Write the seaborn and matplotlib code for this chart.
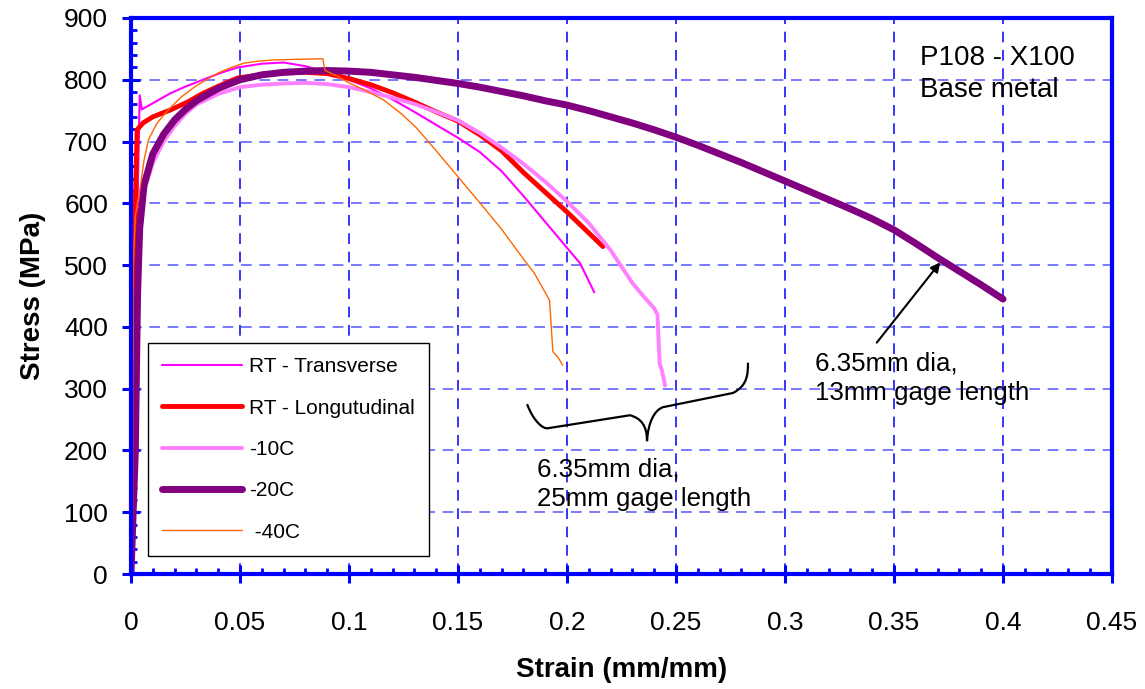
import seaborn as sns
import matplotlib.pyplot as plt
import numpy as np
import pandas as pd
from matplotlib.path import Path
from matplotlib.patches import PathPatch
from matplotlib.ticker import MultipleLocator, FuncFormatter


# Curbe tensiune-deformatie

rt_trans_strain = [0, 0.002, 0.003, 0.004, 0.005, 0.01, 0.018, 0.025, 0.033, 0.041, 0.049,
                   0.06, 0.07, 0.08, 0.09, 0.1, 0.11, 0.12, 0.13, 0.14, 0.15, 0.16, 0.17,
                   0.18, 0.19, 0.2, 0.206, 0.2125]
rt_trans_stress = [0, 350, 600, 775, 752, 762, 778, 789, 800, 811, 820,
                   826, 828, 822, 812, 800, 786, 768, 748, 727, 706, 683, 652,
                   612, 570, 528, 503, 456]

rt_long_strain = [0, 0.001, 0.002, 0.0028, 0.0055, 0.01, 0.018, 0.026, 0.033, 0.041, 0.049,
                  0.06, 0.07, 0.08, 0.09, 0.1, 0.11, 0.12, 0.13, 0.14, 0.15, 0.16, 0.17,
                  0.18, 0.19, 0.2, 0.21, 0.2165]
rt_long_stress = [0, 300, 600, 719, 730, 740, 751, 764, 778, 791, 803,
                  808, 811, 812, 810, 802, 792, 779, 764, 748, 733, 711, 685,
                  650, 618, 586, 552, 530]

m10_strain = [0, 0.002, 0.004, 0.006, 0.01, 0.015, 0.02, 0.025, 0.03, 0.04, 0.05,
              0.06, 0.07, 0.08, 0.09, 0.1, 0.11, 0.12, 0.13, 0.14, 0.15, 0.16, 0.17,
              0.18, 0.19, 0.2, 0.21, 0.22, 0.23, 0.235, 0.24, 0.2415, 0.2425, 0.2435, 0.245]
m10_stress = [0, 400, 560, 620, 665, 700, 725, 745, 760, 777, 788,
              792, 794, 795, 793, 788, 780, 771, 761, 748, 734, 714, 690,
              664, 635, 603, 568, 524, 471, 450, 430, 420, 340, 330, 305]

m20_strain = [0, 0.002, 0.003, 0.004, 0.006, 0.01, 0.015, 0.02, 0.025, 0.03, 0.04, 0.05,
              0.06, 0.07, 0.08, 0.09, 0.1, 0.11, 0.12, 0.13, 0.14, 0.15, 0.16, 0.17,
              0.18, 0.19, 0.2, 0.21, 0.22, 0.23, 0.24, 0.25, 0.26, 0.27, 0.28, 0.29,
              0.3, 0.31, 0.32, 0.33, 0.34, 0.35, 0.36, 0.37, 0.38, 0.39, 0.4]
m20_stress = [0, 200, 450, 560, 630, 680, 712, 735, 752, 766, 786, 800,
              808, 812, 814, 815, 814, 812, 808, 804, 799, 794, 788, 781,
              774, 766, 759, 750, 740, 730, 719, 707, 694, 680, 666, 651,
              636, 621, 606, 591, 575, 557, 535, 512, 490, 468, 445]

m40_strain = [0, 0.0007, 0.0008, 0.001, 0.002, 0.004, 0.006, 0.008, 0.012, 0.017, 0.023,
              0.029, 0.035, 0.04, 0.046, 0.052, 0.058, 0.065, 0.075, 0.088, 0.089, 0.095,
              0.1, 0.108, 0.116, 0.124, 0.131, 0.14, 0.15, 0.16, 0.17, 0.18, 0.185,
              0.192, 0.1935, 0.196, 0.198]
m40_stress = [0, 100, 300, 500, 580, 620, 670, 703, 730, 751, 772,
              788, 801, 811, 820, 827, 830, 832, 833, 834, 815, 805,
              795, 782, 767, 745, 722, 685, 643, 601, 558, 510, 487,
              443, 360, 350, 338]

serii = [
    ("RT - Transverse", rt_trans_strain, rt_trans_stress, "#FF00FF", 1.5),
    ("RT - Longutudinal", rt_long_strain, rt_long_stress, "#FF0000", 3.5),
    ("-10C", m10_strain, m10_stress, "#FF80FF", 2.8),
    ("-20C", m20_strain, m20_stress, "#800080", 5.0),
    (" -40C", m40_strain, m40_stress, "#FF6600", 1.0),
]


# Stil grafic

sns.set_style("white")
plt.rcParams["font.family"] = ["Liberation Sans", "DejaVu Sans"]
plt.rcParams["text.color"] = "black"
plt.rcParams["axes.labelcolor"] = "black"
plt.rcParams["xtick.labelcolor"] = "black"
plt.rcParams["ytick.labelcolor"] = "black"

fig = plt.figure(figsize=(11.45, 6.89), dpi=100)
ax = fig.add_axes([0.1144, 0.1669, 0.8568, 0.807])

for nume, x, y, culoare, lw in serii:
    df = pd.DataFrame({"Strain": x, "Stress": y})
    sns.lineplot(data=df, x="Strain", y="Stress", ax=ax, sort=False, estimator=None,
                 color=culoare, linewidth=lw, label=nume)

ax.set_xlim(0, 0.45)
ax.set_ylim(0, 900)
ax.xaxis.set_major_locator(MultipleLocator(0.05))
ax.xaxis.set_minor_locator(MultipleLocator(0.01))
ax.yaxis.set_major_locator(MultipleLocator(100))
ax.yaxis.set_minor_locator(MultipleLocator(20))
ax.xaxis.set_major_formatter(FuncFormatter(lambda v, p: f"{v:g}"))

ax.tick_params(which="major", direction="inout", length=13, width=2.2, color="#0000FF",
               labelsize=19, labelcolor="black")
ax.tick_params(axis="x", which="major", pad=20)
ax.tick_params(axis="y", which="major", pad=10)
ax.tick_params(which="minor", direction="in", length=4.5, width=2, color="#0000FF")
ax.tick_params(axis="x", which="both", bottom=True, top=False)
ax.tick_params(axis="y", which="both", left=True, right=False)

ax.xaxis.grid(True, which="major", color="#0000FF", linewidth=1.1, dashes=(7, 5))
ax.yaxis.grid(True, which="major", color="#5555FF", linewidth=1.1, dashes=(7, 5))
ax.set_axisbelow(True)

for s in ax.spines.values():
    s.set_color("#0000FF")
    s.set_linewidth(3)
    s.set_visible(True)

ax.set_xlabel("Strain (mm/mm)", fontsize=20, fontweight="bold", labelpad=16)
ax.set_ylabel("Stress (MPa)", fontsize=20, fontweight="bold", labelpad=13)

leg = ax.legend(loc="lower left", bbox_to_anchor=(0.017, 0.032), fontsize=15,
                frameon=True, fancybox=False, framealpha=1, edgecolor="black",
                handlelength=3.85, labelspacing=1.07, borderpad=0.7, handletextpad=0.3,
                borderaxespad=0)
leg.get_frame().set_linewidth(1.0)
for t in leg.get_texts():
    t.set_color("black")


# Adnotari

ax.text(0.362, 856, "P108 - X100\nBase metal", fontsize=20, va="top", ha="left",
        linespacing=1.3)
ax.text(0.3138, 360, "6.35mm dia,\n13mm gage length", fontsize=18.6, va="top",
        ha="left", linespacing=1.3)
ax.text(0.1862, 189, "6.35mm dia,\n25mm gage length", fontsize=18.6, va="top",
        ha="left", linespacing=1.3)
ax.annotate("", xy=(0.372, 508), xytext=(0.3413, 371),
            arrowprops=dict(arrowstyle="-|>", color="black", lw=1.5, mutation_scale=14))

# acolada
verts = [(0.1817, 275), (0.1845, 248), (0.1890, 234), (0.1913, 236),
         (0.2289, 257),
         (0.2340, 252), (0.2367, 240), (0.2367, 215),
         (0.2372, 245), (0.2400, 265), (0.2440, 270),
         (0.2761, 293),
         (0.2830, 305), (0.2830, 325), (0.2830, 342)]
codes = [Path.MOVETO, Path.CURVE4, Path.CURVE4, Path.CURVE4,
         Path.LINETO,
         Path.CURVE4, Path.CURVE4, Path.CURVE4,
         Path.CURVE4, Path.CURVE4, Path.CURVE4,
         Path.LINETO,
         Path.CURVE4, Path.CURVE4, Path.CURVE4]
ax.add_patch(PathPatch(Path(verts, codes), facecolor="none", edgecolor="black", lw=1.6))

fig.savefig("out.png", dpi=100)
